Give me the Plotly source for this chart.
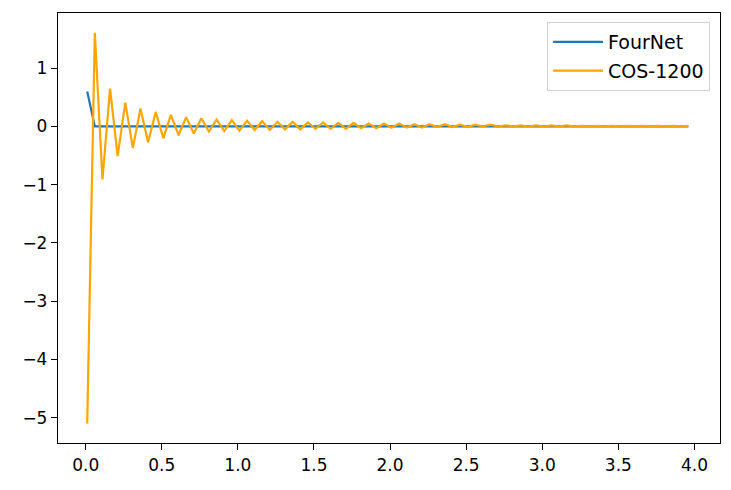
import numpy as np
import plotly.graph_objects as go

# sample grid (step 0.05)
x_vals = np.round(0.01 + 0.05 * np.arange(80), 4)

fournet = [0.60, 0.0, 0.0, 0.0, 0.0, 0.0, 0.0, 0.0, 0.0, 0.0,
           0.0, 0.0, 0.0, 0.0, 0.0, 0.0, 0.0, 0.0, 0.0, 0.0,
           0.0, 0.0, 0.0, 0.0, 0.0, 0.0, 0.0, 0.0, 0.0, 0.0,
           0.0, 0.0, 0.0, 0.0, 0.0, 0.0, 0.0, 0.0, 0.0, 0.0,
           0.0, 0.0, 0.0, 0.0, 0.0, 0.0, 0.0, 0.0, 0.0, 0.0,
           0.0, 0.0, 0.0, 0.0, 0.0, 0.0, 0.0, 0.0, 0.0, 0.0,
           0.0, 0.0, 0.0, 0.0, 0.0, 0.0, 0.0, 0.0, 0.0, 0.0,
           0.0, 0.0, 0.0, 0.0, 0.0, 0.0, 0.0, 0.0, 0.0, 0.0]

cos_1200 = [-5.10, 1.61, -0.91, 0.65, -0.51, 0.41, -0.37, 0.31, -0.27, 0.25,
            -0.20, 0.20, -0.15, 0.16, -0.12, 0.14, -0.09, 0.12, -0.08, 0.11,
            -0.07, 0.10, -0.06, 0.09, -0.06, 0.08, -0.05, 0.08, -0.05, 0.07,
            -0.04, 0.07, -0.04, 0.06, -0.04, 0.06, -0.03, 0.05, -0.03, 0.05,
            -0.02, 0.05, -0.02, 0.04, -0.02, 0.04, -0.01, 0.04, -0.01, 0.03,
            -0.01, 0.03, 0.00, 0.03, 0.00, 0.02, 0.00, 0.02, 0.00, 0.02,
            0.00, 0.02, 0.00, 0.02, 0.00, 0.01, 0.00, 0.01, 0.00, 0.01,
            0.00, 0.01, 0.00, 0.01, 0.00, 0.01, 0.00, 0.01, 0.00, 0.01]

x_ticks = [0.0, 0.5, 1.0, 1.5, 2.0, 2.5, 3.0, 3.5, 4.0]
y_ticks = [-5, -4, -3, -2, -1, 0, 1]

fig = go.Figure()

fig.add_trace(go.Scatter(
    x=x_vals, y=fournet, mode="lines", name="FourNet", legendgroup="a",
    line=dict(color="#1f77b4", width=2.2),
))
fig.add_trace(go.Scatter(
    x=x_vals, y=cos_1200, mode="lines", name="COS-1200", legendgroup="b",
    line=dict(color="#FFA500", width=2.2),
))

axis_common = dict(
    showgrid=False, zeroline=False,
    showline=True, linecolor="black", linewidth=1.3, mirror=True,
    ticks="outside", ticklen=6, tickwidth=1.3, tickcolor="black",
    tickfont=dict(family="DejaVu Sans", size=17, color="black"),
)

fig.update_layout(
    width=731, height=490,
    paper_bgcolor="white", plot_bgcolor="white",
    margin=dict(l=58, r=11, t=13, b=47),
    xaxis=dict(range=[-0.182, 4.168], tickvals=x_ticks,
               ticktext=[f"{v:.1f}" for v in x_ticks], **axis_common),
    yaxis=dict(range=[-5.434, 1.948], tickvals=y_ticks, **axis_common),
    legend=dict(
        x=0.985, y=0.979, xanchor="right", yanchor="top",
        bgcolor="white", bordercolor="#d0d0d0", borderwidth=1,
        itemwidth=50, tracegroupgap=1,
        font=dict(family="DejaVu Sans", size=19, color="black"),
    ),
)

# drop the page's default body margin so the plot sits at the window origin
fig.write_html("out.html", config={"displayModeBar": False},
               post_script="document.body.style.margin='0';")
